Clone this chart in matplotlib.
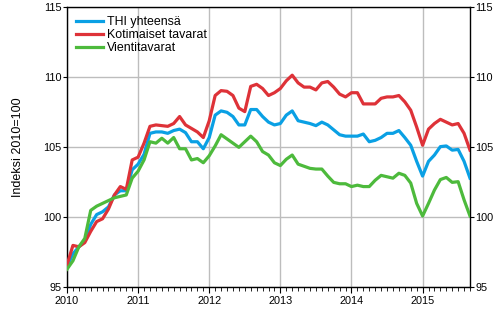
import numpy as np
import matplotlib
matplotlib.use("Agg")
import matplotlib.pyplot as plt
from matplotlib.ticker import MultipleLocator

plt.rcParams['font.family'] = ['Liberation Sans', 'DejaVu Sans']

# Kuukausittaiset indeksit 1/2010 - 9/2015
years = ["2010", "2011", "2012", "2013", "2014", "2015"]

thi = [96.5, 97.4, 97.9, 98.3, 99.5, 100.2, 100.4, 100.75, 101.6, 101.9, 101.9, 103.4,
       103.8, 104.5, 106.0, 106.1, 106.1, 106.0, 106.2, 106.3, 106.05, 105.4, 105.4, 104.9,
       105.7, 107.3, 107.6, 107.5, 107.2, 106.6, 106.6, 107.7, 107.7, 107.2, 106.8, 106.6,
       106.7, 107.3, 107.6, 106.9, 106.8, 106.7, 106.55, 106.8, 106.6, 106.25, 105.9, 105.8,
       105.8, 105.8, 105.95, 105.4, 105.5, 105.7, 106.0, 106.0, 106.2, 105.7, 105.15, 104.0,
       102.95, 104.0, 104.45, 105.05, 105.1, 104.8, 104.85, 104.0, 102.8]

kotimaiset = [96.6, 98.0, 97.9, 98.2, 99.0, 99.7, 99.9, 100.6, 101.6, 102.2, 102.0, 104.1,
              104.3, 105.3, 106.5, 106.6, 106.55, 106.5, 106.7, 107.2, 106.6, 106.35, 106.1, 105.7,
              106.9, 108.7, 109.05, 109.0, 108.7, 107.8, 107.55, 109.35, 109.5, 109.2, 108.7, 108.9,
              109.2, 109.75, 110.15, 109.6, 109.3, 109.3, 109.1, 109.6, 109.7, 109.3, 108.8, 108.6,
              108.9, 108.9, 108.1, 108.1, 108.1, 108.5, 108.6, 108.6, 108.7, 108.25, 107.65, 106.45,
              105.15, 106.3, 106.7, 107.0, 106.8, 106.6, 106.7, 106.0, 104.8]

vienti = [96.3, 96.9, 97.9, 98.5, 100.5, 100.8, 101.0, 101.2, 101.4, 101.5, 101.6, 102.8,
          103.3, 104.1, 105.4, 105.3, 105.65, 105.3, 105.7, 104.9, 104.9, 104.1, 104.2, 103.9,
          104.4, 105.1, 105.9, 105.6, 105.3, 105.0, 105.4, 105.8, 105.4, 104.7, 104.45, 103.9,
          103.7, 104.15, 104.45, 103.8, 103.65, 103.5, 103.45, 103.45, 102.95, 102.5, 102.4, 102.4,
          102.2, 102.3, 102.2, 102.2, 102.65, 103.0, 102.9, 102.8, 103.15, 103.0, 102.45, 101.0,
          100.1, 101.0, 101.95, 102.7, 102.85, 102.5, 102.55, 101.25, 100.1]

months = np.arange(len(thi))

fig = plt.figure(figsize=(5, 3.3), dpi=100)
ax = fig.add_axes([0.134, 0.129, 0.806, 0.849])

ax.plot(months, thi, color='#0AA0E4', lw=2.3, label='THI yhteensä', zorder=3)
ax.plot(months, kotimaiset, color='#DE3238', lw=2.3, label='Kotimaiset tavarat', zorder=3)
ax.plot(months, vienti, color='#4DBA3C', lw=2.3, label='Vientitavarat', zorder=3)

ax.set_xlim(0, len(thi) - 1)
ax.set_ylim(95, 115)
ax.set_xticks(np.arange(0, len(thi), 12))
ax.set_xticklabels(years)
ax.xaxis.set_minor_locator(MultipleLocator(1))
ax.yaxis.set_major_locator(MultipleLocator(5))

ax.grid(True, which='major', color='#bdbdbd', lw=1)
ax.set_axisbelow(True)

ax.tick_params(axis='x', which='major', length=4, labelsize=7.8, pad=2)
ax.tick_params(axis='x', which='minor', length=3)
ax.tick_params(axis='y', which='major', length=3, labelsize=7.8, pad=1,
               left=True, right=True, labelleft=True, labelright=True)
for s in ax.spines.values():
    s.set_linewidth(1)

ax.set_ylabel('Indeksi 2010=100', fontsize=9, labelpad=14)

ax.legend(loc='upper left', frameon=False, fontsize=8.9, handlelength=2.2,
          handletextpad=0.3, labelspacing=0.1, borderaxespad=0.3)

fig.savefig('out.png', dpi=100)
